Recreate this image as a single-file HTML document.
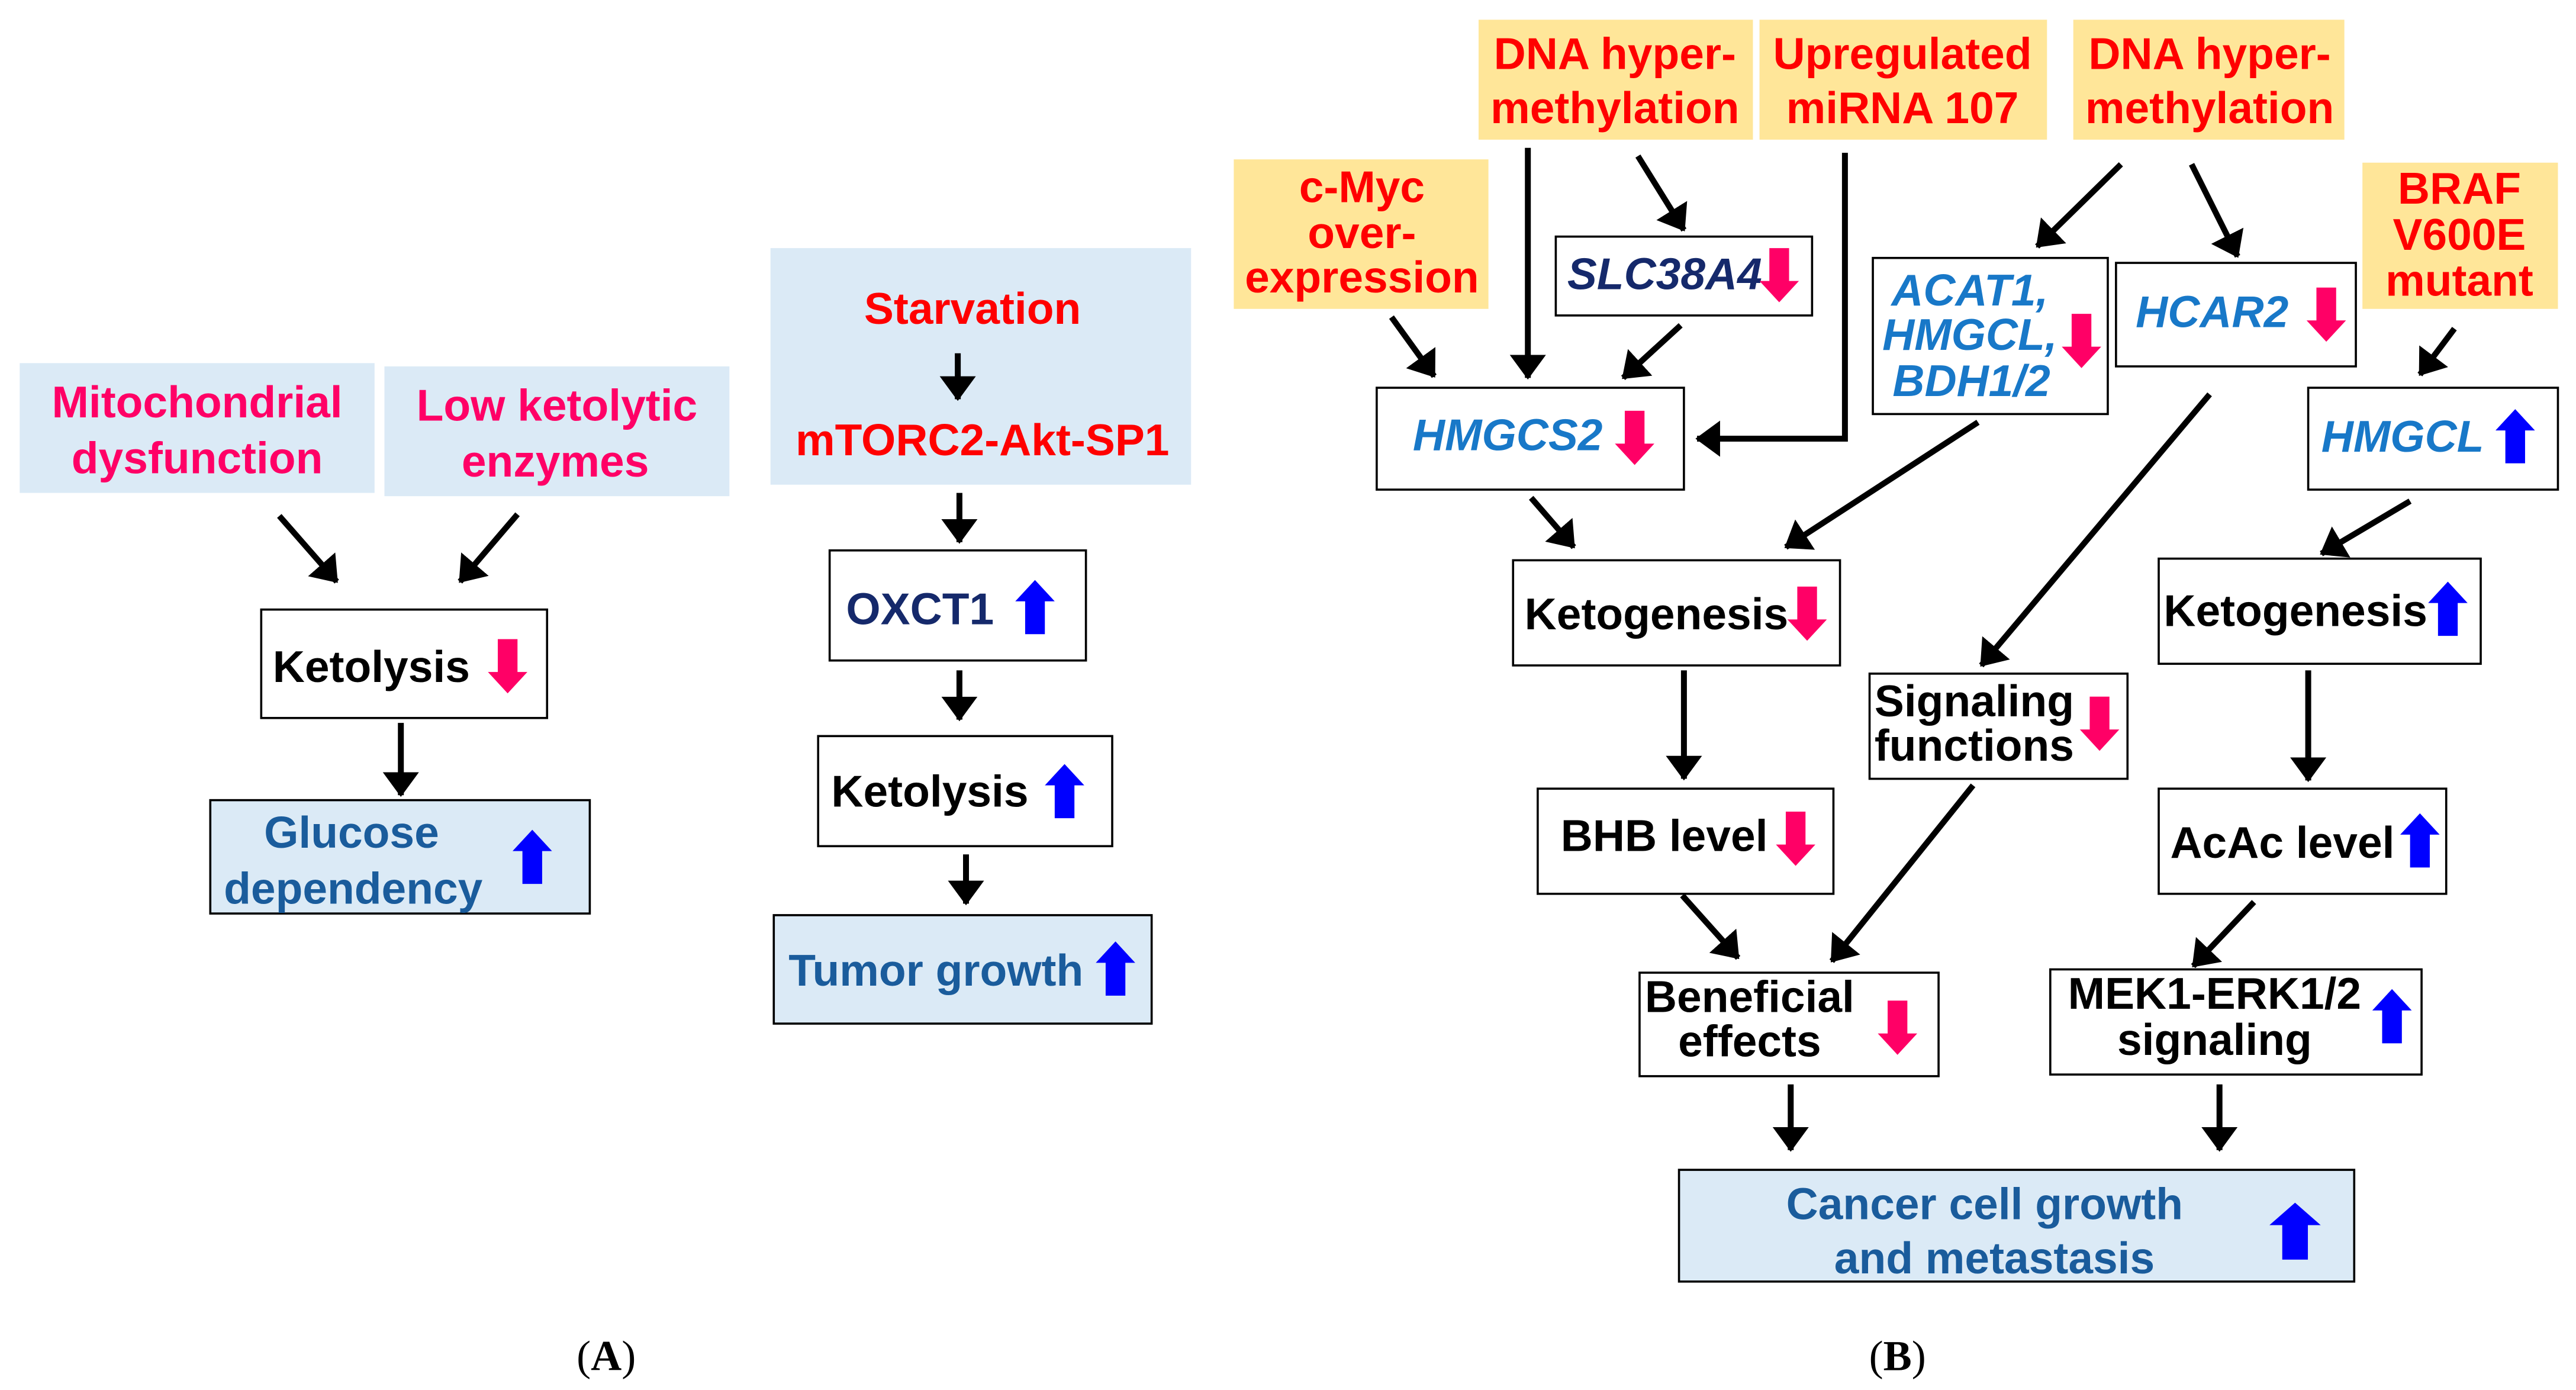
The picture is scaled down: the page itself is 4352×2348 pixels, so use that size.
<!DOCTYPE html>
<html><head><meta charset="utf-8"><style>
html,body{margin:0;padding:0;background:#fff}
svg{display:block}
text{font-family:"Liberation Sans",Arial,sans-serif;font-weight:bold;font-size:27px}
.pk{fill:#ff0066}.rd{fill:#ff0000}.bl{fill:#1a5c9c}.nv{fill:#15296b}.it{fill:#1878c8;font-style:italic}.nvi{fill:#15296b;font-style:italic}
.lb{fill:#dbeaf6}.yl{fill:#ffe699}.wb{fill:#fff;stroke:#000;stroke-width:1.3}.lbb{fill:#dbeaf6;stroke:#000;stroke-width:1.3}
.ar{stroke:#000;stroke-width:3.6;fill:none;marker-end:url(#ah)}
</style></head><body>
<svg width="4352" height="2348" viewBox="0 0 1568 846" preserveAspectRatio="none" xmlns="http://www.w3.org/2000/svg">
<defs>
<marker id="ah" markerUnits="userSpaceOnUse" markerWidth="16" markerHeight="24" refX="14" refY="11" orient="auto"><path d="M0,0 L15,11 L0,22 Z" fill="#000"/></marker>
<path id="up" d="M0,0 L12,13 L6,13 L6,33 L-6,33 L-6,13 L-12,13 Z"/>
<path id="dn" d="M0,33 L12,20 L6,20 L6,0 L-6,0 L-6,20 L-12,20 Z"/>
</defs>
<rect width="1568" height="846" fill="#fff"/>

<!-- Panel A -->
<rect class="lb" x="12" y="221" width="216" height="79"/>
<text class="pk" x="120" y="254" text-anchor="middle">Mitochondrial</text>
<text class="pk" x="120" y="288" text-anchor="middle">dysfunction</text>
<rect class="lb" x="234" y="223" width="210" height="79"/>
<text class="pk" x="339" y="256" text-anchor="middle">Low ketolytic</text>
<text class="pk" x="338" y="290" text-anchor="middle">enzymes</text>
<line class="ar" x1="170" y1="314" x2="205" y2="354"/>
<line class="ar" x1="315" y1="313" x2="280" y2="354"/>
<rect class="wb" x="159" y="371" width="174" height="66"/>
<text x="166" y="415" fill="#000">Ketolysis</text>
<use href="#dn" x="309" y="389" fill="#ff0066"/>
<line class="ar" x1="244" y1="440" x2="244" y2="484"/>
<rect class="lbb" x="128" y="487" width="231" height="69"/>
<text class="bl" x="214" y="516" text-anchor="middle">Glucose</text>
<text class="bl" x="215" y="550" text-anchor="middle">dependency</text>
<use href="#up" x="324" y="505" fill="#0000ff"/>

<rect class="lb" x="469" y="151" width="256" height="144"/>
<text class="rd" x="592" y="197" text-anchor="middle">Starvation</text>
<line class="ar" x1="583" y1="215" x2="583" y2="243"/>
<text class="rd" x="598" y="277" text-anchor="middle">mTORC2-Akt-SP1</text>
<line class="ar" x1="584" y1="300" x2="584" y2="330"/>
<rect class="wb" x="505" y="335" width="156" height="67"/>
<text class="nv" x="515" y="380">OXCT1</text>
<use href="#up" x="630" y="353" fill="#0000ff"/>
<line class="ar" x1="584" y1="408" x2="584" y2="438"/>
<rect class="wb" x="498" y="448" width="179" height="67"/>
<text x="506" y="491" fill="#000">Ketolysis</text>
<use href="#up" x="648" y="465" fill="#0000ff"/>
<line class="ar" x1="588" y1="520" x2="588" y2="550"/>
<rect class="lbb" x="471" y="557" width="230" height="66"/>
<text class="bl" x="480" y="600">Tumor growth</text>
<use href="#up" x="679" y="573" fill="#0000ff"/>

<text x="369" y="834" text-anchor="middle" style="font-family:'Liberation Serif',serif;font-weight:normal;font-size:26px">(<tspan font-weight="bold">A</tspan>)</text>

<!-- Panel B -->
<rect class="yl" x="900" y="12" width="167" height="73"/>
<text class="rd" x="983" y="42" text-anchor="middle">DNA hyper-</text>
<text class="rd" x="983" y="75" text-anchor="middle">methylation</text>
<rect class="yl" x="1071" y="12" width="175" height="73"/>
<text class="rd" x="1158" y="42" text-anchor="middle">Upregulated</text>
<text class="rd" x="1158" y="75" text-anchor="middle">miRNA 107</text>
<rect class="yl" x="1262" y="12" width="165" height="73"/>
<text class="rd" x="1345" y="42" text-anchor="middle">DNA hyper-</text>
<text class="rd" x="1345" y="75" text-anchor="middle">methylation</text>
<rect class="yl" x="751" y="97" width="155" height="91"/>
<text class="rd" x="829" y="123" text-anchor="middle">c-Myc</text>
<text class="rd" x="829" y="151" text-anchor="middle">over-</text>
<text class="rd" x="829" y="178" text-anchor="middle">expression</text>
<rect class="yl" x="1438" y="99" width="119" height="89"/>
<text class="rd" x="1497" y="124" text-anchor="middle">BRAF</text>
<text class="rd" x="1497" y="152" text-anchor="middle">V600E</text>
<text class="rd" x="1497" y="180" text-anchor="middle">mutant</text>

<rect class="wb" x="947" y="144" width="156" height="48"/>
<text class="nvi" x="954" y="176">SLC38A4</text>
<use href="#dn" x="1083" y="151" fill="#ff0066"/>
<rect class="wb" x="838" y="236" width="187" height="62"/>
<text class="it" x="860" y="274">HMGCS2</text>
<use href="#dn" x="995" y="250" fill="#ff0066"/>
<rect class="wb" x="1140" y="157" width="143" height="95"/>
<text class="it" x="1199" y="186" text-anchor="middle">ACAT1,</text>
<text class="it" x="1199" y="213" text-anchor="middle">HMGCL,</text>
<text class="it" x="1200" y="241" text-anchor="middle">BDH1/2</text>
<use href="#dn" x="1267" y="191" fill="#ff0066"/>
<rect class="wb" x="1288" y="160" width="146" height="63"/>
<text class="it" x="1300" y="199">HCAR2</text>
<use href="#dn" x="1416" y="175" fill="#ff0066"/>
<rect class="wb" x="1405" y="236" width="152" height="62"/>
<text class="it" x="1413" y="275">HMGCL</text>
<use href="#up" x="1531" y="249" fill="#0000ff"/>

<line class="ar" x1="930" y1="90" x2="930" y2="230"/>
<line class="ar" x1="997" y1="95" x2="1025" y2="140"/>
<polyline class="ar" points="1123,93 1123,267 1033,267"/>
<line class="ar" x1="847" y1="193" x2="873" y2="229"/>
<line class="ar" x1="1023" y1="198" x2="988" y2="230"/>
<line class="ar" x1="1291" y1="100" x2="1240" y2="150"/>
<line class="ar" x1="1334" y1="100" x2="1362" y2="156"/>
<line class="ar" x1="1494" y1="200" x2="1473" y2="228"/>
<line class="ar" x1="932" y1="303" x2="958" y2="333"/>
<line class="ar" x1="1204" y1="257" x2="1087" y2="333"/>
<line class="ar" x1="1345" y1="240" x2="1206" y2="405"/>
<line class="ar" x1="1467" y1="305" x2="1413" y2="337"/>

<rect class="wb" x="921" y="341" width="199" height="64"/>
<text x="928" y="383" fill="#000">Ketogenesis</text>
<use href="#dn" x="1100" y="357" fill="#ff0066"/>
<rect class="wb" x="1138" y="410" width="157" height="64"/>
<text x="1141" y="436" fill="#000">Signaling</text>
<text x="1141" y="463" fill="#000">functions</text>
<use href="#dn" x="1278" y="424" fill="#ff0066"/>
<rect class="wb" x="1314" y="340" width="196" height="64"/>
<text x="1317" y="381" fill="#000">Ketogenesis</text>
<use href="#up" x="1490" y="354" fill="#0000ff"/>

<line class="ar" x1="1025" y1="408" x2="1025" y2="474"/>
<line class="ar" x1="1405" y1="408" x2="1405" y2="475"/>

<rect class="wb" x="936" y="480" width="180" height="64"/>
<text x="950" y="518" fill="#000">BHB level</text>
<use href="#dn" x="1093" y="494" fill="#ff0066"/>
<rect class="wb" x="1314" y="480" width="175" height="64"/>
<text x="1321" y="522" fill="#000">AcAc level</text>
<use href="#up" x="1473" y="495" fill="#0000ff"/>

<line class="ar" x1="1024" y1="545" x2="1058" y2="583"/>
<line class="ar" x1="1201" y1="478" x2="1115" y2="585"/>
<line class="ar" x1="1372" y1="549" x2="1335" y2="588"/>

<rect class="wb" x="998" y="592" width="182" height="63"/>
<text x="1065" y="616" fill="#000" text-anchor="middle">Beneficial</text>
<text x="1065" y="643" fill="#000" text-anchor="middle">effects</text>
<use href="#dn" x="1155" y="609" fill="#ff0066"/>
<rect class="wb" x="1248" y="590" width="226" height="64"/>
<text x="1348" y="614" fill="#000" text-anchor="middle">MEK1-ERK1/2</text>
<text x="1348" y="642" fill="#000" text-anchor="middle">signaling</text>
<use href="#up" x="1456" y="602" fill="#0000ff"/>

<line class="ar" x1="1090" y1="660" x2="1090" y2="700"/>
<line class="ar" x1="1351" y1="660" x2="1351" y2="700"/>

<rect class="lbb" x="1022" y="712" width="411" height="68"/>
<text class="bl" x="1208" y="742" text-anchor="middle">Cancer cell growth</text>
<text class="bl" x="1214" y="775" text-anchor="middle">and metastasis</text>
<use href="#up" transform="translate(1397,732) scale(1.3,1.05)" fill="#0000ff"/>

<text x="1155" y="834" text-anchor="middle" style="font-family:'Liberation Serif',serif;font-weight:normal;font-size:26px">(<tspan font-weight="bold">B</tspan>)</text>
</svg>
</body></html>
